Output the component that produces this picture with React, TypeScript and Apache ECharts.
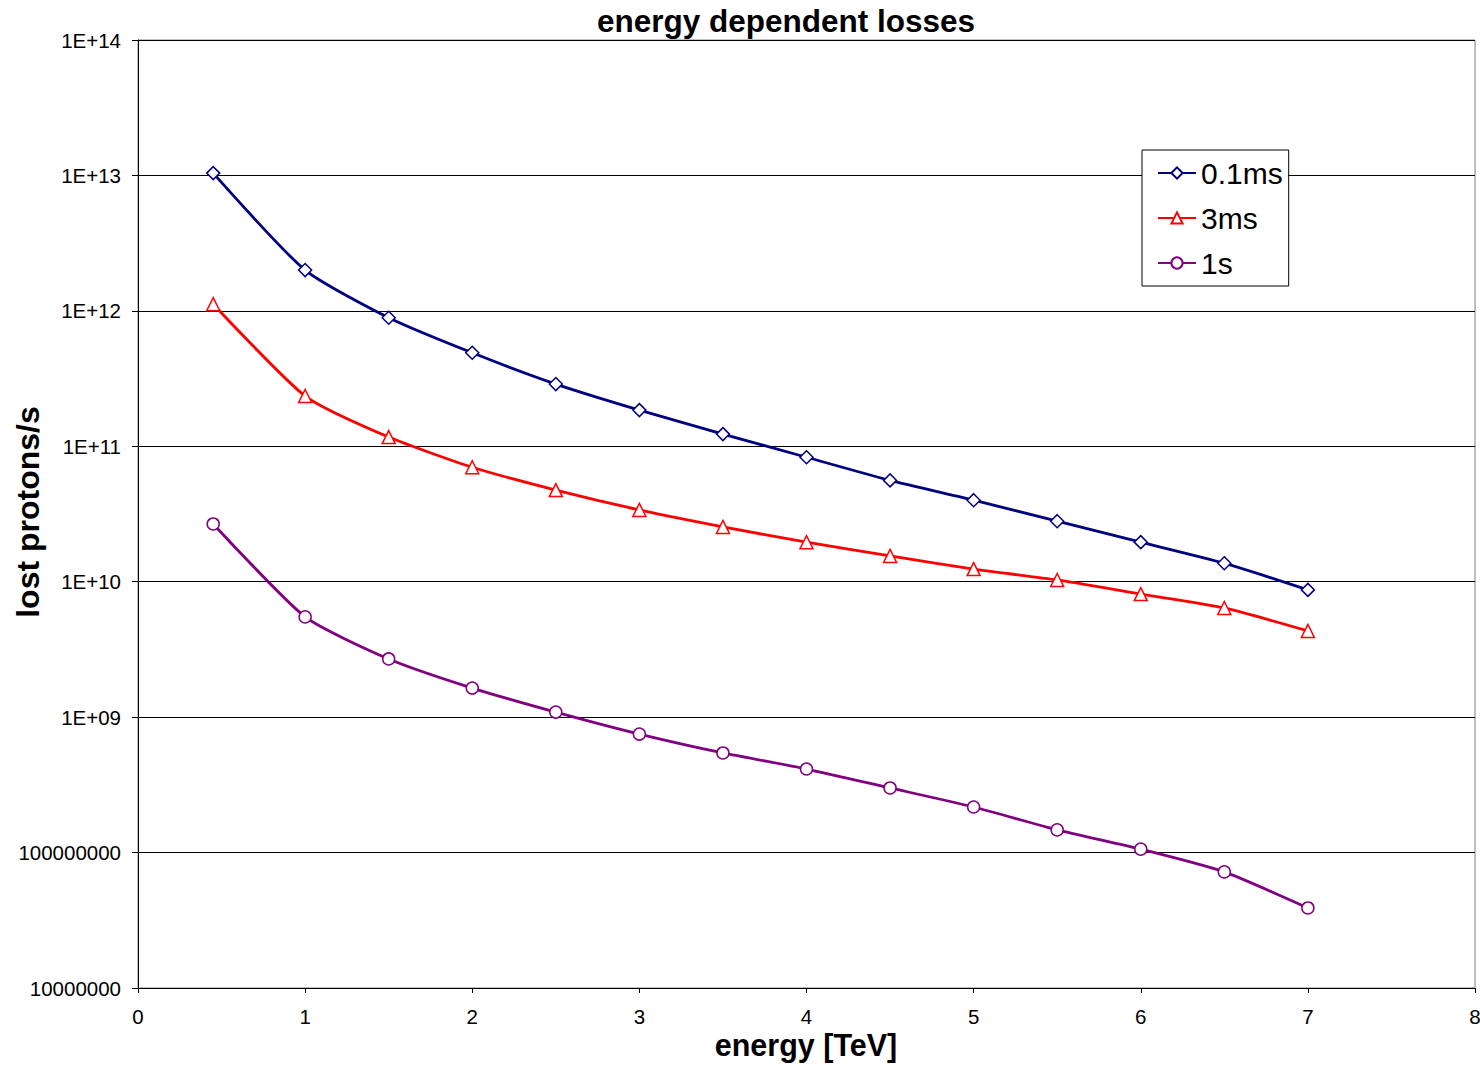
import React, { useEffect, useRef } from "react";
import * as echarts from "echarts";

const energies = [0.45, 1, 1.5, 2, 2.5, 3, 3.5, 4, 4.5, 5, 5.5, 6, 6.5, 7];
const loss01ms = [1.04e13, 2.0e12, 8.9e11, 4.9e11, 2.88e11, 1.85e11, 1.23e11, 8.3e10, 5.6e10, 4.0e10, 2.8e10, 1.96e10, 1.37e10, 8.7e9];
const loss3ms = [1.12e12, 2.35e11, 1.17e11, 7.0e10, 4.75e10, 3.39e10, 2.54e10, 1.96e10, 1.55e10, 1.24e10, 1.03e10, 8.1e9, 6.4e9, 4.33e9];
const loss1s = [2.67e10, 5.5e9, 2.69e9, 1.64e9, 1.09e9, 7.5e8, 5.44e8, 4.14e8, 3.0e8, 2.17e8, 1.47e8, 1.06e8, 7.2e7, 3.9e7];
const seriesNames = ["0.1ms", "3ms", "1s"];
const yTickLabels = ["10000000", "100000000", "1E+09", "1E+10", "1E+11", "1E+12", "1E+13", "1E+14"];

const FONT = "'Liberation Sans', Arial, sans-serif";

export default function App() {
  const ref = useRef<HTMLDivElement>(null);
  useEffect(() => {
    if (!ref.current) return;
    const chart = echarts.init(ref.current, undefined, { renderer: "svg" });
    const mk = (name: string, vals: number[], color: string, symbol: string, size: number) => ({
      name,
      type: "line",
      data: energies.map((x, i) => [x, vals[i]]),
      smooth: 0.2,
      symbol,
      symbolSize: size,
      showAllSymbol: true,
      lineStyle: { color, width: 2.8 },
      itemStyle: { color: "#ffffff", borderColor: color, borderWidth: 1.5 },
      z: 3,
    });
    chart.setOption({
      animation: false,
      backgroundColor: "#ffffff",
      textStyle: { fontFamily: FONT },
      graphic: [
        {
          type: "text",
          x: 786,
          y: 21,
          style: {
            text: "energy dependent losses",
            font: `bold 31.5px ${FONT}`,
            fill: "#000",
            textAlign: "center",
            textVerticalAlign: "middle",
          },
        },
        {
          type: "text",
          x: 806,
          y: 1045,
          style: {
            text: "energy [TeV]",
            font: `bold 30.5px ${FONT}`,
            fill: "#000",
            textAlign: "center",
            textVerticalAlign: "middle",
          },
        },
        {
          type: "text",
          x: 28,
          y: 512,
          rotation: Math.PI / 2,
          style: {
            text: "lost protons/s",
            font: `bold 32px ${FONT}`,
            fill: "#000",
            textAlign: "center",
            textVerticalAlign: "middle",
          },
        },
      ],
      grid: {
        left: 138,
        right: 5,
        top: 40,
        bottom: 77,
        show: true,
        borderColor: "#808080",
        borderWidth: 1,
        containLabel: false,
        outerBoundsMode: "none",
      },
      legend: {
        orient: "vertical",
        left: 1142,
        top: 150,
        backgroundColor: "#ffffff",
        borderColor: "#000",
        borderWidth: 1,
        borderRadius: 0,
        padding: [8, 6, 8, 15],
        itemWidth: 38,
        itemHeight: 14,
        itemGap: 15,
        data: seriesNames,
        textStyle: { fontSize: 30, color: "#000", fontFamily: FONT },
      },
      xAxis: {
        type: "value",
        min: 0,
        max: 8,
        interval: 1,
        axisLine: { show: true, lineStyle: { color: "#000", width: 1 } },
        axisTick: { show: true, inside: false, length: 5, lineStyle: { color: "#000" } },
        axisLabel: { fontSize: 20.5, color: "#000", margin: 18, fontFamily: FONT },
        splitLine: { show: false },
      },
      yAxis: {
        type: "log",
        logBase: 10,
        min: 1e7,
        max: 1e14,
        interval: 1,
        axisLine: { show: true, lineStyle: { color: "#000", width: 1 } },
        axisTick: { show: true, inside: false, length: 6, lineStyle: { color: "#000" } },
        minorTick: { show: false },
        axisLabel: {
          fontSize: 20.5,
          color: "#000",
          margin: 17,
          fontFamily: FONT,
          formatter: (v: number) => {
            const e = Math.round(Math.log10(v));
            return yTickLabels[e - 7] ?? "";
          },
        },
        splitLine: { show: true, lineStyle: { color: "#000", width: 1 } },
      },
      series: [
        mk(seriesNames[0], loss01ms, "#000080", "diamond", 13),
        mk(seriesNames[1], loss3ms, "#ff0000", "triangle", 13),
        mk(seriesNames[2], loss1s, "#800080", "circle", 12),
      ],
    });
    return () => chart.dispose();
  }, []);
  return (
    <div
      ref={ref}
      style={{ position: "absolute", left: 0, top: 0, width: 1480, height: 1065 }}
    />
  );
}
